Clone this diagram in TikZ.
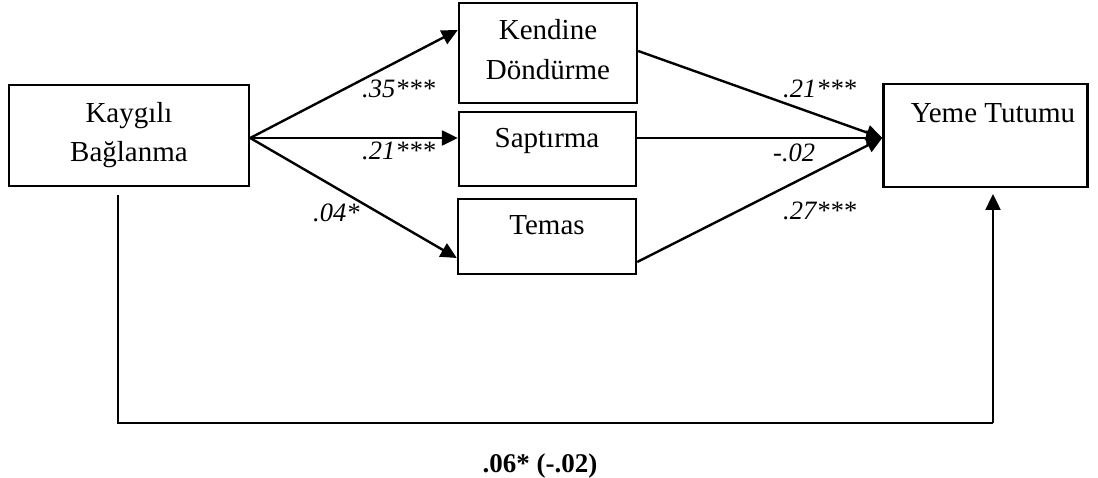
\documentclass[tikz,border=0pt]{standalone}
\usepackage{fontspec}
\setmainfont{Liberation Serif}
\usetikzlibrary{arrows.meta}
\begin{document}
\begin{tikzpicture}[x=1pt,y=-1pt,
  box/.style={draw=black,line width=2.4pt,rectangle,inner sep=0pt},
  txt/.style={anchor=base,inner sep=0pt,font=\fontsize{29}{34}\selectfont},
  coef/.style={anchor=base west,inner sep=0pt,font=\fontsize{26.5}{30}\selectfont\itshape},
  conn/.style={line width=2.4pt,-{Triangle[length=16pt,width=15pt]}},
  plain/.style={line width=2.4pt}]
\useasboundingbox (0,0) rectangle (1098,478);
% boxes
\node[box,minimum width=240pt,minimum height=101pt] (kb) at (129,135.5) {};
\node[box,minimum width=178pt,minimum height=100pt] (kd) at (548,53) {};
\node[box,minimum width=177pt,minimum height=74pt] (sp) at (547.5,149) {};
\node[box,minimum width=178pt,minimum height=75pt] (te) at (547,236.5) {};
\node[box,minimum width=204pt,minimum height=103pt] (yt) at (985.5,135.5) {};
% texts
\node[txt] (kb1) at (129,123) {Kaygılı};
\node[txt] (kb2) at (129,162) {Bağlanma};
\node[txt] (kd1) at (548,40) {Kendine};
\node[txt] (kd2) at (548,80) {Döndürme};
\node[txt] (sp1) at (547,148) {Saptırma};
\node[txt] (te1) at (547,235) {Temas};
\node[txt] (yt1) at (993,123) {Yeme Tutumu};
% connectors
\draw[conn] ([yshift=-2.5pt]kb.east) -- ([yshift=23pt]kd.west);
\draw[conn] ([yshift=-2.5pt]kb.east) -- ([yshift=11pt]sp.west);
\draw[conn] ([yshift=-2.5pt]kb.east) -- ([yshift=-21.5pt]te.west);
\draw[conn] ([yshift=2pt]kd.east) -- ([yshift=-2.5pt]yt.west);
\draw[conn] ([yshift=11pt]sp.east) -- ([yshift=-2.5pt]yt.west);
\draw[conn] ([yshift=-25.5pt]te.east) -- ([yshift=-2.5pt]yt.west);
% direct path
\coordinate (bl) at (118,195);
\coordinate (blc) at (118,423);
\coordinate (brc) at (993,423);
\coordinate (br) at (993,194);
\draw[plain] (bl) -- (blc) -- (brc);
\draw[conn] (brc) -- (br);
% coefficients
\node[coef] (c1) at (362,98) {.35***};
\node[coef] (c2) at (362,160) {.21***};
\node[coef] (c3) at (313,222) {.04*};
\node[coef] (c4) at (783,98) {.21***};
\node[coef] (c5) at (773,162) {-.02};
\node[coef] (c6) at (783,220) {.27***};
\node[anchor=base,inner sep=0pt,font=\fontsize{27}{30}\selectfont\bfseries] (c7) at (540,472) {.06* (-.02)};
\end{tikzpicture}
\end{document}
